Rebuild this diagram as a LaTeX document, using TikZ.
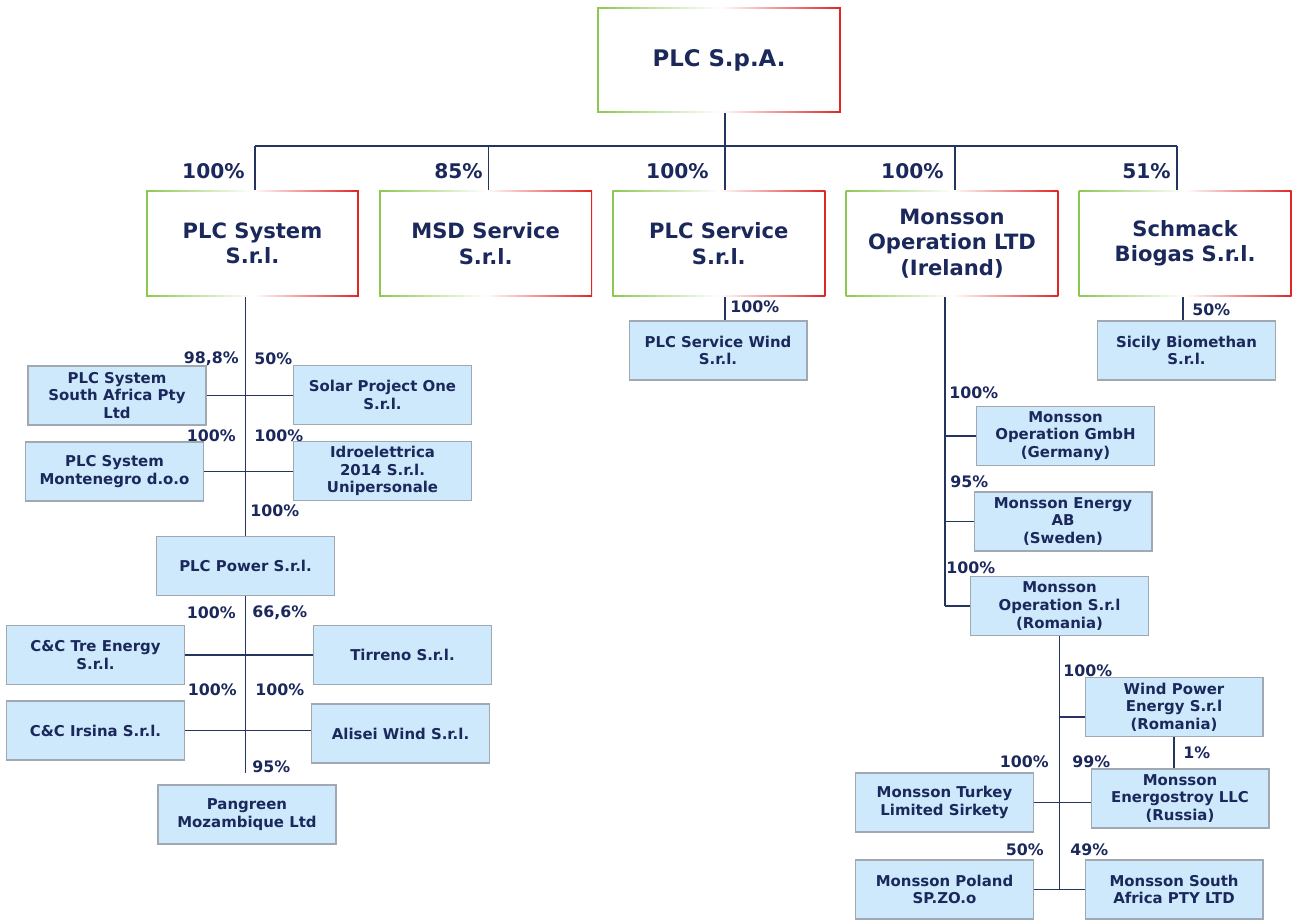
\documentclass[tikz,border=0pt]{standalone}
\usepackage{fontspec}
\setmainfont{DejaVu Sans}
\usetikzlibrary{positioning}
\usepackage{xcolor}
\definecolor{plcnavy}{RGB}{27,40,92}
\definecolor{plcline}{RGB}{38,52,96}
\definecolor{plcblue}{RGB}{205,233,251}
\definecolor{plcgrey}{RGB}{160,168,178}
\definecolor{plcgreen}{RGB}{140,200,80}
\definecolor{plcred}{RGB}{225,35,35}

\begin{document}
\begin{tikzpicture}[
    x=0.02cm, y=-0.02cm,
    headbox/.style={rectangle, minimum width=4.26cm, minimum height=2.14cm, inner sep=1pt, align=center, text=plcnavy,
        font=\fontsize{12}{14.5}\selectfont\bfseries, left color=plcgreen, right color=plcred, middle color=white,
        path picture={\fill[white] ([shift={(0.9pt,-0.9pt)}]path picture bounding box.north west) rectangle ([shift={(-0.9pt,0.9pt)}]path picture bounding box.south east);}},
    subbox/.style={rectangle, draw=plcgrey, line width=0.6pt, fill=plcblue, minimum width=3.56cm, minimum height=1.18cm, inner sep=1pt, align=center, text=plcnavy, font=\fontsize{8.5}{10}\selectfont\bfseries},
    pct/.style={inner sep=0pt, text=plcnavy, font=\fontsize{9}{10}\selectfont\bfseries},
    bigpct/.style={inner sep=0pt, text=plcnavy, font=\fontsize{11.5}{12}\selectfont\bfseries},
    link/.style={draw=plcline, line width=0.8pt}
]
\useasboundingbox (0,0) rectangle (1293,920);

% holding and first level
\node[headbox, minimum width=4.88cm, minimum height=2.12cm, font=\fontsize{13}{15}\selectfont\bfseries] (plc) at (719,60) {PLC S.p.A.};
\node[headbox] (sys) at (252.5,243.5) {PLC System\\S.r.l.};
\node[headbox, right=0.39cm of sys] (msd) {MSD Service\\S.r.l.};
\node[headbox, right=0.39cm of msd] (svc) {PLC Service\\S.r.l.};
\node[headbox, right=0.39cm of svc] (mon) {Monsson\\Operation LTD\\(Ireland)};
\node[headbox, right=0.39cm of mon] (sch) {Schmack\\Biogas S.r.l.};

\coordinate (bus) at (0,146);
\draw[link] ([xshift=0.12cm]plc.south) -- ([xshift=0.12cm]plc.south |- bus);
\draw[link] ([xshift=0.05cm]sys.north |- bus) -- ([xshift=-0.16cm]sch.north |- bus);
\foreach \n/\dx in {sys/0.05cm, msd/0.06cm, svc/0.12cm, mon/0.06cm, sch/-0.16cm}
    \draw[link] ([xshift=\dx]\n.north) -- ([xshift=\dx]\n.north |- bus);

\node[bigpct, anchor=east] (psys) at (245,171) {100\%};
\node[bigpct, anchor=east] (pmsd) at (483,171) {85\%};
\node[bigpct, anchor=east] (psvc) at (709,171) {100\%};
\node[bigpct, anchor=east] (pmon) at (944,171) {100\%};
\node[bigpct, anchor=east] (psch) at (1171,171) {51\%};

% PLC Service and Schmack
\node[subbox] (wind) at (718,350.5) {PLC Service Wind\\S.r.l.};
\node[subbox] (sicily) at (1186.5,350.5) {Sicily Biomethan\\S.r.l.};
\draw[link] ([xshift=0.14cm]wind.north) -- ([xshift=0.14cm]wind.north |- svc.south);
\draw[link] ([xshift=-0.07cm]sicily.north) -- ([xshift=-0.07cm]sicily.north |- sch.south);
\node[pct, anchor=west] (pwind) at (730,307) {100\%};
\node[pct, anchor=west] (psicily) at (1192,310) {50\%};

% PLC System branch
\node[subbox] (sapty) at (117,395.5) {PLC System\\South Africa Pty\\Ltd};
\node[subbox] (solar) at (382.5,395) {Solar Project One\\S.r.l.};
\node[subbox] (mne) at (114.5,471.5) {PLC System\\Montenegro d.o.o};
\node[subbox] (idro) at (382.5,471) {Idroelettrica\\2014 S.r.l.\\Unipersonale};
\node[subbox] (pow) at (245.5,566) {PLC Power S.r.l.};
\node[subbox] (tre) at (95.5,655) {C\&C Tre Energy\\S.r.l.};
\node[subbox] (tirreno) at (402.5,655) {Tirreno S.r.l.};
\node[subbox] (irsina) at (95.5,730.5) {C\&C Irsina S.r.l.};
\node[subbox] (alisei) at (400.5,733.5) {Alisei Wind S.r.l.};
\node[subbox] (pangreen) at (247,814.5) {Pangreen\\Mozambique Ltd};

\coordinate (powend) at (245.5,773);
\draw[link] (pow.north |- sys.south) -- (pow.north);
\draw[link] (pow.south) -- (powend);
\draw[link] (sapty.east) -- (sapty.east -| solar.west);
\draw[link] (mne.east) -- (mne.east -| idro.west);
\draw[link] (tre.east) -- (tre.east -| tirreno.west);
\draw[link] (irsina.east) -- (irsina.east -| alisei.west);

\node[pct, anchor=east] (psapty) at (239,359) {98,8\%};
\node[pct, anchor=west] (psolar) at (254,359) {50\%};
\node[pct, anchor=east] (pmne) at (236,436) {100\%};
\node[pct, anchor=west] (pidro) at (254,436) {100\%};
\node[pct, anchor=west] (ppow) at (250,511) {100\%};
\node[pct, anchor=east] (ptre) at (236,613) {100\%};
\node[pct, anchor=west] (ptirreno) at (252,613) {66,6\%};
\node[pct, anchor=east] (pirsina) at (237,690) {100\%};
\node[pct, anchor=west] (palisei) at (255,690) {100\%};
\node[pct, anchor=west] (ppangreen) at (252,767) {95\%};

% Monsson branch
\node[subbox] (gmbh) at (1065.5,436) {Monsson\\Operation GmbH\\(Germany)};
\node[subbox] (ab) at (1063,521.5) {Monsson Energy\\AB\\(Sweden)};
\node[subbox] (rom) at (1059.5,606) {Monsson\\Operation S.r.l\\(Romania)};
\node[subbox] (wpe) at (1174,707) {Wind Power\\Energy S.r.l\\(Romania)};
\node[subbox] (turkey) at (944.5,802.5) {Monsson Turkey\\Limited Sirkety};
\node[subbox] (energo) at (1180,798.5) {Monsson\\Energostroy LLC\\(Russia)};
\node[subbox] (poland) at (944.5,889.5) {Monsson Poland\\SP.ZO.o};
\node[subbox] (msa) at (1174,889.5) {Monsson South\\Africa PTY LTD};

\coordinate (montrunk) at (945,0);
\draw[link] (mon.south -| montrunk) -- (rom.west -| montrunk);
\draw[link] (gmbh.west -| montrunk) -- (gmbh.west);
\draw[link] (ab.west -| montrunk) -- (ab.west);
\draw[link] (rom.west -| montrunk) -- (rom.west);
\draw[link] (rom.south) -- (rom.south |- msa.west);
\draw[link] ([yshift=-0.2cm]wpe.west -| rom.south) -- ([yshift=-0.2cm]wpe.west);
\draw[link] (wpe.south) -- (wpe.south |- energo.north);
\draw[link] (turkey.east) -- (turkey.east -| energo.west);
\draw[link] (poland.east) -- (poland.east -| msa.west);

\node[pct, anchor=west] (pgmbh) at (949,393) {100\%};
\node[pct, anchor=west] (pab) at (950,482) {95\%};
\node[pct, anchor=west] (prom) at (946,568) {100\%};
\node[pct, anchor=west] (pwpe) at (1063,671) {100\%};
\node[pct, anchor=west] (penergo1) at (1183,753) {1\%};
\node[pct, anchor=east] (pturkey) at (1049,762) {100\%};
\node[pct, anchor=west] (penergo) at (1072,762) {99\%};
\node[pct, anchor=east] (ppoland) at (1044,850) {50\%};
\node[pct, anchor=west] (pmsa) at (1070,850) {49\%};
\end{tikzpicture}
\end{document}
